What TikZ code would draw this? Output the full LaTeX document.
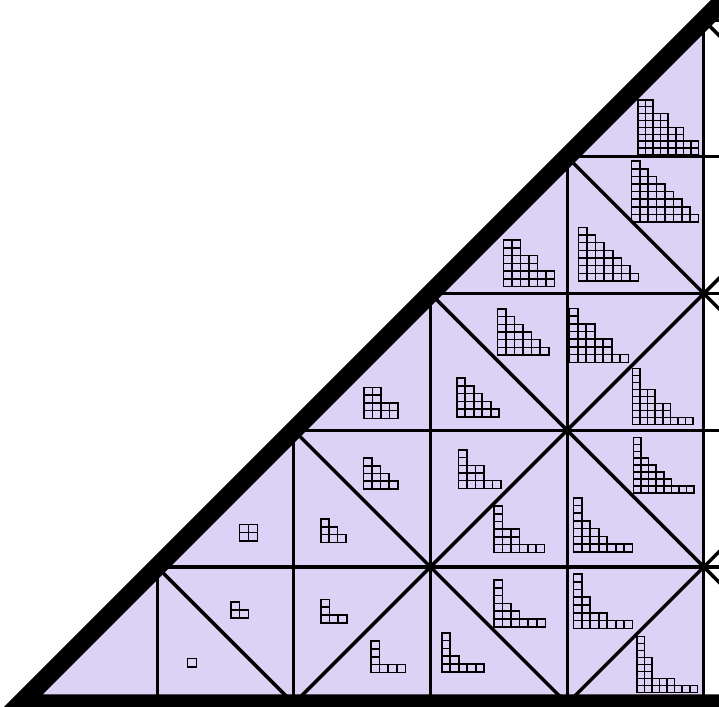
\documentclass[tikz,border=0pt]{standalone}
\definecolor{alc}{RGB}{220,210,245}
\tikzset{
  gridline/.style={line width=0.9pt},
  diagline/.style={line width=1pt},
  wall/.style={line width=5.3pt, line join=miter},
  ybox/.style={line width=0.45pt, draw=black}
}
% #1 left x, #2 bottom y (pixel coords, y down), #3 box width, #4 box height, #5 rows (bottom first)
\newcommand\ydiag[5]{%
  \foreach \L [count=\k from 0] in {#5} {
    \foreach \m in {1,...,\L} {
      \draw[ybox] ({#1+(\m-1)*#3},{#2-\k*#4}) rectangle ({#1+\m*#3},{#2-(\k+1)*#4});
    }
  }
}
\begin{document}
\begin{tikzpicture}[x=0.01cm,y=-0.01cm]
\useasboundingbox (0,0) rectangle (719,706);
\clip (0,0) rectangle (719,706);
\begin{scope}[shift={(20.4,703.6)}, x=1.366cm, y=1.366cm]
  \fill[alc] (0,0) -- (5,0) -- (5,5) -- cycle;
  \foreach \i in {1,...,5} \draw[gridline] (\i,0) -- (\i,\i);
  \foreach \j in {1,...,5} \draw[gridline] (\j,\j) -- (6,\j);
  \foreach \c/\r in {1/0,3/0,5/0,2/1,4/1,3/2,5/2,4/3,5/4}
    \draw[diagline] ({\c},{\r+1}) -- ({\c+1},{\r});
  \foreach \c/\r in {2/0,4/0,3/1,5/1,4/2,5/3}
    \draw[diagline] ({\c},{\r}) -- ({\c+1},{\r+1});
  \draw[wall] (6,6) -- (0,0) -- (6,0);
\end{scope}
\ydiag{187.3}{667}{9.3}{8.7}{1}
\ydiag{231}{617.7}{8.7}{8}{2,1}
\ydiag{239.3}{540.7}{9}{8.2}{2,2}
\ydiag{320.7}{622.7}{8.67}{7.8}{3,1,1}
\ydiag{371}{672.3}{8.6}{7.8}{4,1,1,1}
\ydiag{441.7}{671.7}{8.5}{7.8}{5,2,1,1,1}
\ydiag{494}{626.7}{8.55}{7.8}{6,3,2,1,1,1}
\ydiag{573.3}{628.3}{8.48}{7.76}{7,4,2,2,1,1,1}
\ydiag{636.7}{692.3}{7.58}{6.96}{8,5,2,2,2,1,1,1}
\ydiag{320.7}{542.3}{8.4}{7.8}{3,2,1}
\ydiag{363.3}{489}{8.6}{7.75}{4,3,2,1}
\ydiag{458.3}{488.3}{8.5}{7.67}{5,3,3,1,1}
\ydiag{494}{552.3}{8.44}{7.72}{6,3,3,1,1,1}
\ydiag{573.3}{551.7}{8.48}{7.7}{7,4,3,2,1,1,1}
\ydiag{633.3}{492.7}{7.6}{6.9}{8,5,4,3,2,1,1,1}
\ydiag{364}{418.3}{8.5}{7.75}{4,4,2,2}
\ydiag{456.7}{416.7}{8.5}{7.7}{5,4,3,2,1}
\ydiag{497.3}{355}{8.57}{7.67}{6,5,4,3,2,1}
\ydiag{569.3}{362.3}{8.48}{7.7}{7,5,5,3,3,1,1}
\ydiag{632.3}{424.3}{7.6}{7}{8,5,5,3,3,1,1,1}
\ydiag{503.3}{286.7}{8.5}{7.78}{6,6,4,4,2,2}
\ydiag{578.3}{281}{8.62}{7.67}{7,6,5,4,3,2,1}
\ydiag{631.3}{222}{8.4}{7.6}{8,7,6,5,4,3,2,1}
\ydiag{637.7}{155}{7.6}{6.9}{8,8,6,6,4,4,2,2}
\end{tikzpicture}
\end{document}
